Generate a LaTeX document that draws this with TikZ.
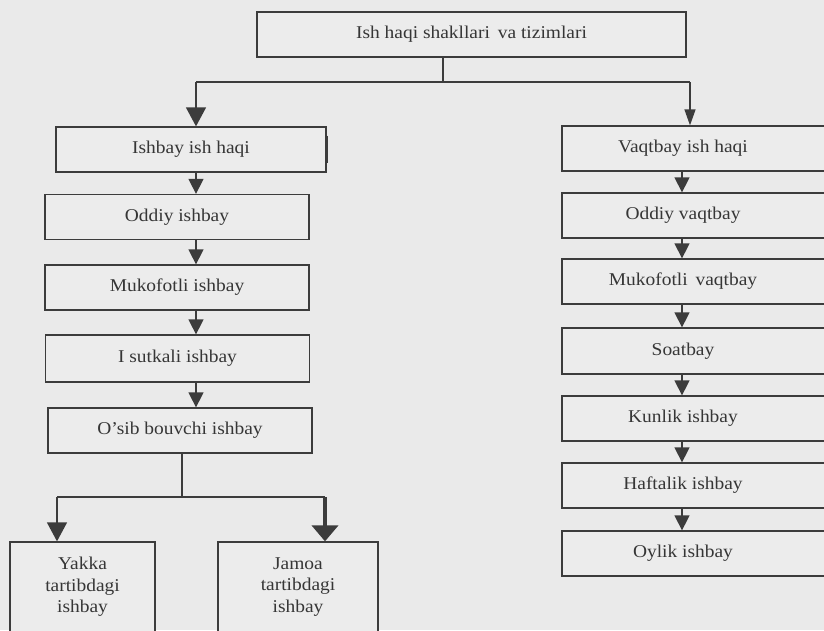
\documentclass[tikz,border=0pt]{standalone}
\usepackage{fontspec}
\setmainfont{Liberation Serif}[FakeStretch=1.08]
\usetikzlibrary{arrows.meta}
\definecolor{bg}{HTML}{EAEAEA}
\definecolor{boxbg}{HTML}{ECECEC}
\definecolor{ln}{HTML}{3C3C3C}
\definecolor{tx}{HTML}{363636}
\begin{document}
\begin{tikzpicture}[x=1pt,y=-1pt,
  box/.style={draw=ln, line width=1.3pt, fill=boxbg, text=tx, inner sep=0pt,
    font=\fontsize{18}{21}\selectfont, minimum height=45pt},
  lbox/.style={box, minimum width=264pt},
  rbox/.style={box, minimum width=268pt},
  bbox/.style={box, align=center, font=\fontsize{18}{21.5}\selectfont, minimum height=90pt},
  conn/.style={draw=ln, line width=1.4pt},
  arrbig/.style={conn, -{Triangle[width=20pt,length=19pt]}},
  arrmid/.style={conn, -{Triangle[width=15pt,length=15pt]}},
  arrthin/.style={conn, -{Triangle[width=11pt,length=16pt]}},
  arrthick/.style={draw=ln, line width=4pt, -{Triangle[width=26pt,length=16pt]}}
]
\useasboundingbox (0,0) rectangle (824,630);
\fill[bg] (0,0) rectangle (824,630);
\clip (0,0) rectangle (824,630);

% top
\node[box, minimum width=429pt] (top) at (471.5,34.5) {Ish haqi shakllari\, va tizimlari};

% left column
\node[box, minimum width=270pt] (is) at (191,149.5) {Ishbay ish haqi};
\node[lbox] (od) at (177,217) {Oddiy ishbay};
\node[lbox] (mk) at (177,287.5) {Mukofotli ishbay};
\node[lbox, minimum height=47pt] (su) at (177.5,358.5) {I sutkali ishbay};
\node[lbox] (os) at (180,430.5) {O’sib bouvchi ishbay};
\node[bbox, minimum width=145pt] (ya) at (82.5,587) {Yakka\\tartibdagi\\ishbay};
\node[bbox, minimum width=160pt] (ja) at (298,587) {Jamoa\\tartibdagi\\ishbay};

% right column
\node[rbox] (v1) at (696,148.5) {\hspace*{-26pt}Vaqtbay ish haqi};
\node[rbox] (v2) at (696,215.5) {\hspace*{-26pt}Oddiy vaqtbay};
\node[rbox] (v3) at (696,281.5) {\hspace*{-26pt}Mukofotli\, vaqtbay};
\node[rbox, minimum height=46pt] (v4) at (696,351) {\hspace*{-26pt}Soatbay};
\node[rbox] (v5) at (696,418.5) {\hspace*{-26pt}Kunlik ishbay};
\node[rbox] (v6) at (696,485.5) {\hspace*{-26pt}Haftalik ishbay};
\node[rbox] (v7) at (696,553.5) {\hspace*{-26pt}Oylik ishbay};

% thick mark on right edge of first left box
\draw[draw=ln, line width=3pt] (is.east) ++(0,-14) -- ++(0,27);

% top connectors
\coordinate (j1) at (443,82);
\coordinate (jl) at (196,82);
\coordinate (jr) at (690,82);
\draw[conn] (top.south -| j1) -- (j1);
\draw[conn] (jl) -- (jr);
\draw[arrbig] (jl) -- (is.north -| jl);
\draw[arrthin] (jr) -- (v1.north -| jr);

% left chain
\coordinate (la) at (196,0);
\draw[arrmid] (is.south -| la) -- (od.north -| la);
\draw[arrmid] (od.south -| la) -- (mk.north -| la);
\draw[arrmid] (mk.south -| la) -- (su.north -| la);
\draw[arrmid] (su.south -| la) -- (os.north -| la);

% bottom split
\coordinate (j2) at (182,497);
\coordinate (j2l) at (57,497);
\coordinate (j2r) at (325,497);
\draw[conn] (os.south -| j2) -- (j2);
\draw[conn] (j2l) -- (j2r);
\draw[arrbig] (j2l) -- (ya.north -| j2l);
\draw[arrthick] (j2r) -- (ja.north -| j2r);

% right chain
\coordinate (ra) at (682,0);
\draw[arrmid] (v1.south -| ra) -- (v2.north -| ra);
\draw[arrmid] (v2.south -| ra) -- (v3.north -| ra);
\draw[arrmid] (v3.south -| ra) -- (v4.north -| ra);
\draw[arrmid] (v4.south -| ra) -- (v5.north -| ra);
\draw[arrmid] (v5.south -| ra) -- (v6.north -| ra);
\draw[arrmid] (v6.south -| ra) -- (v7.north -| ra);
\end{tikzpicture}
\end{document}
